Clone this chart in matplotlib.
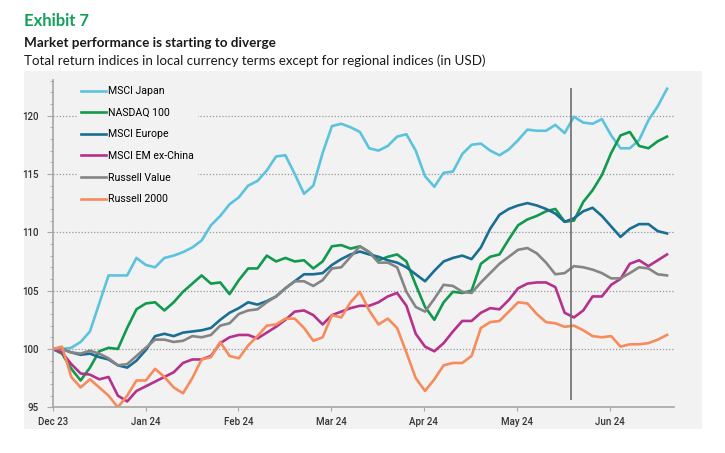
import numpy as np
import matplotlib
matplotlib.use("Agg")
import matplotlib.pyplot as plt
from matplotlib.patches import Rectangle
from matplotlib.ticker import MultipleLocator

# index levels, rebased to 100 at end of Dec 23 (~3 trading days apart)
msci_japan = [100.0, 100.0, 100.1, 100.6, 101.5, 103.9, 106.3, 106.3, 106.3, 107.8,
              107.2, 107.0, 107.8, 108.0, 108.3, 108.7, 109.3, 110.6, 111.4, 112.4,
              113.0, 114.0, 114.4, 115.3, 116.5, 116.6, 115.0, 113.3, 114.0, 116.8,
              119.1, 119.3, 119.0, 118.6, 117.2, 117.0, 117.4, 118.2, 118.4, 117.0,
              114.8, 113.9, 115.1, 115.2, 116.7, 117.5, 117.6, 117.0, 116.6, 117.1,
              117.9, 118.8, 118.7, 118.7, 119.2, 118.5, 119.9, 119.4, 119.3, 119.7,
              118.3, 117.2, 117.2, 117.9, 119.6, 120.8, 122.3]
nasdaq_100 = [100.0, 99.6, 98.3, 97.3, 98.4, 99.8, 100.1, 100.0, 101.8, 103.4,
              103.9, 104.0, 103.3, 104.0, 104.9, 105.6, 106.3, 105.6, 105.7, 104.7,
              105.9, 106.9, 106.9, 108.0, 107.5, 107.8, 107.5, 107.6, 106.9, 107.5,
              108.8, 108.9, 108.6, 108.8, 108.3, 107.6, 107.9, 108.1, 107.5, 105.5,
              103.6, 102.5, 104.0, 104.9, 104.8, 105.0, 107.3, 107.9, 108.1, 109.4,
              110.6, 111.1, 111.4, 111.8, 112.0, 110.9, 111.0, 112.6, 113.6, 114.9,
              116.8, 118.3, 118.6, 117.4, 117.2, 117.8, 118.2]
msci_europe = [100.0, 100.0, 99.7, 99.5, 99.6, 99.3, 99.1, 98.6, 98.4, 99.0,
               99.9, 101.1, 101.3, 101.1, 101.4, 101.5, 101.6, 101.8, 102.5, 103.1,
               103.5, 104.0, 103.8, 104.1, 104.5, 105.2, 105.8, 106.4, 106.4, 106.5,
               107.2, 107.7, 108.1, 108.35, 108.1, 107.9, 107.6, 107.4, 107.0, 106.4,
               105.8, 106.7, 107.5, 107.8, 108.0, 107.7, 108.7, 110.3, 111.5, 112.0,
               112.3, 112.5, 112.3, 112.0, 111.6, 110.9, 111.2, 111.8, 112.1, 111.4,
               110.5, 109.6, 110.3, 110.7, 110.7, 110.1, 109.9]
msci_em_ex_china = [100.0, 99.7, 98.7, 97.9, 97.8, 97.4, 97.6, 96.0, 95.5, 96.4,
                    96.8, 97.2, 97.6, 98.0, 98.8, 99.1, 99.1, 99.4, 100.5, 101.0,
                    101.2, 101.2, 100.9, 101.4, 101.9, 102.5, 103.2, 103.3, 102.9, 102.1,
                    102.9, 103.2, 103.5, 103.7, 103.7, 104.0, 104.5, 104.8, 103.7, 101.3,
                    100.2, 99.8, 100.5, 101.5, 102.4, 102.4, 103.1, 103.5, 103.4, 104.2,
                    105.2, 105.6, 105.7, 105.7, 105.3, 103.1, 102.7, 103.3, 104.5, 104.5,
                    105.5, 106.0, 107.3, 107.6, 107.1, 107.6, 108.1]
russell_value = [100.0, 100.0, 99.7, 99.6, 99.85, 99.6, 99.2, 98.6, 98.7, 99.4,
                 100.1, 100.8, 100.8, 100.6, 100.7, 101.1, 101.0, 101.2, 102.0, 102.2,
                 103.0, 103.3, 103.4, 104.0, 104.5, 105.2, 105.8, 105.8, 105.4, 105.9,
                 106.9, 107.0, 107.9, 108.8, 108.3, 107.4, 107.4, 107.0, 104.9, 103.6,
                 103.2, 104.3, 105.5, 105.4, 104.9, 104.8, 105.7, 106.5, 107.3, 107.9,
                 108.5, 108.65, 108.2, 107.4, 106.4, 106.5, 107.1, 107.0, 106.8, 106.5,
                 106.05, 106.05, 106.5, 107.0, 106.9, 106.4, 106.3]
russell_2000 = [100.0, 100.2, 97.6, 96.7, 97.4, 96.7, 96.0, 95.0, 96.0, 97.3,
                97.3, 98.3, 97.6, 96.7, 96.2, 97.5, 99.1, 99.3, 100.6, 99.4,
                99.2, 100.3, 101.1, 102.0, 102.1, 102.6, 102.6, 101.8, 100.7, 101.0,
                102.9, 102.7, 104.0, 104.9, 103.3, 102.1, 102.6, 101.8, 99.7, 97.5,
                96.4, 97.4, 98.6, 98.8, 98.8, 99.4, 101.8, 102.3, 102.4, 103.2,
                104.0, 103.9, 103.0, 102.3, 102.2, 101.9, 102.0, 101.6, 101.1, 101.0,
                101.1, 100.2, 100.4, 100.4, 100.5, 100.8, 101.2]

month_labels = ["Dec 23", "Jan 24", "Feb 24", "Mar 24", "Apr 24", "May 24", "Jun 24"]
marker_month = 5.585  # vertical line, late May

series = [
    ("MSCI Japan", msci_japan, "#5bc3de"),
    ("NASDAQ 100", nasdaq_100, "#11994d"),
    ("MSCI Europe", msci_europe, "#1b6e93"),
    ("MSCI EM ex-China", msci_em_ex_china, "#b5318b"),
    ("Russell Value", russell_value, "#858585"),
    ("Russell 2000", russell_2000, "#f68b5b"),
]

bg = "#f2f2f2"
fig = plt.figure(figsize=(7.25, 4.53), dpi=100)
fig.patches.append(Rectangle((24 / 725, 1 - 429 / 453), 678 / 725, 358 / 453,
                             transform=fig.transFigure, facecolor=bg,
                             edgecolor="none", zorder=-10))

ax = fig.add_axes([52.7 / 725, 1 - 407.3 / 453, (674 - 52.7) / 725, (407.3 - 80) / 453])
ax.set_facecolor("none")

x = np.linspace(0, 6.62, len(msci_japan))
for name, vals, col in series:
    ax.plot(x, vals, color=col, lw=1.9, label=name, solid_joinstyle="round")

ax.vlines(marker_month, 95.63, 122.37, color="#6e6e6e", lw=1.2, zorder=5)

ax.set_xlim(0, 6.695)
ax.set_ylim(95, 123.05)
ax.set_xticks(range(len(month_labels)))
ax.set_xticklabels(month_labels)
ax.yaxis.set_major_locator(MultipleLocator(5))
ax.yaxis.set_minor_locator(MultipleLocator(1))
ax.set_yticks([95, 100, 105, 110, 115, 120])

for y in [100, 105, 110, 115, 120]:
    ax.axhline(y, color="#9a9a9a", lw=0.9, ls=(0, (1, 1.5)), zorder=0.5)

for s in ["top", "right"]:
    ax.spines[s].set_visible(False)
for s in ["left", "bottom"]:
    ax.spines[s].set_color("#a6a6a6")
    ax.spines[s].set_linewidth(1.2)

ax.tick_params(axis="both", which="both", color="#a6a6a6", labelsize=7,
               labelcolor="#333333")
ax.tick_params(axis="y", which="major", length=4, pad=6)
ax.tick_params(axis="y", which="minor", length=2.5)
ax.tick_params(axis="x", which="major", length=3, pad=4)
for lab in ax.get_xticklabels() + ax.get_yticklabels():
    lab.set_fontfamily("Roboto")
    lab.set_fontweight("medium")

leg = ax.legend(loc="upper left", bbox_to_anchor=(0.03, 1.01), frameon=True,
                facecolor=bg, edgecolor="none", framealpha=1, fancybox=False,
                handlelength=2.4, handletextpad=0.2, labelspacing=1.1,
                prop={"family": "Roboto", "size": 7.6})
leg.set_zorder(3)

fig.text(24 / 725, 1 - 21 / 453, "Exhibit 7", color="#14a05a", fontsize=12,
         fontweight="bold", family="Lato", va="center")
fig.text(24 / 725, 1 - 43 / 453, "Market performance is starting to diverge",
         color="#1a1a1a", fontsize=9.75, fontweight="bold", family="Lato", va="center")
fig.text(24 / 725, 1 - 61 / 453,
         "Total return indices in local currency terms except for regional indices (in USD)",
         color="#1a1a1a", fontsize=9.6, family="Lato", va="center")

fig.savefig("out.png", dpi=100, facecolor="white")
